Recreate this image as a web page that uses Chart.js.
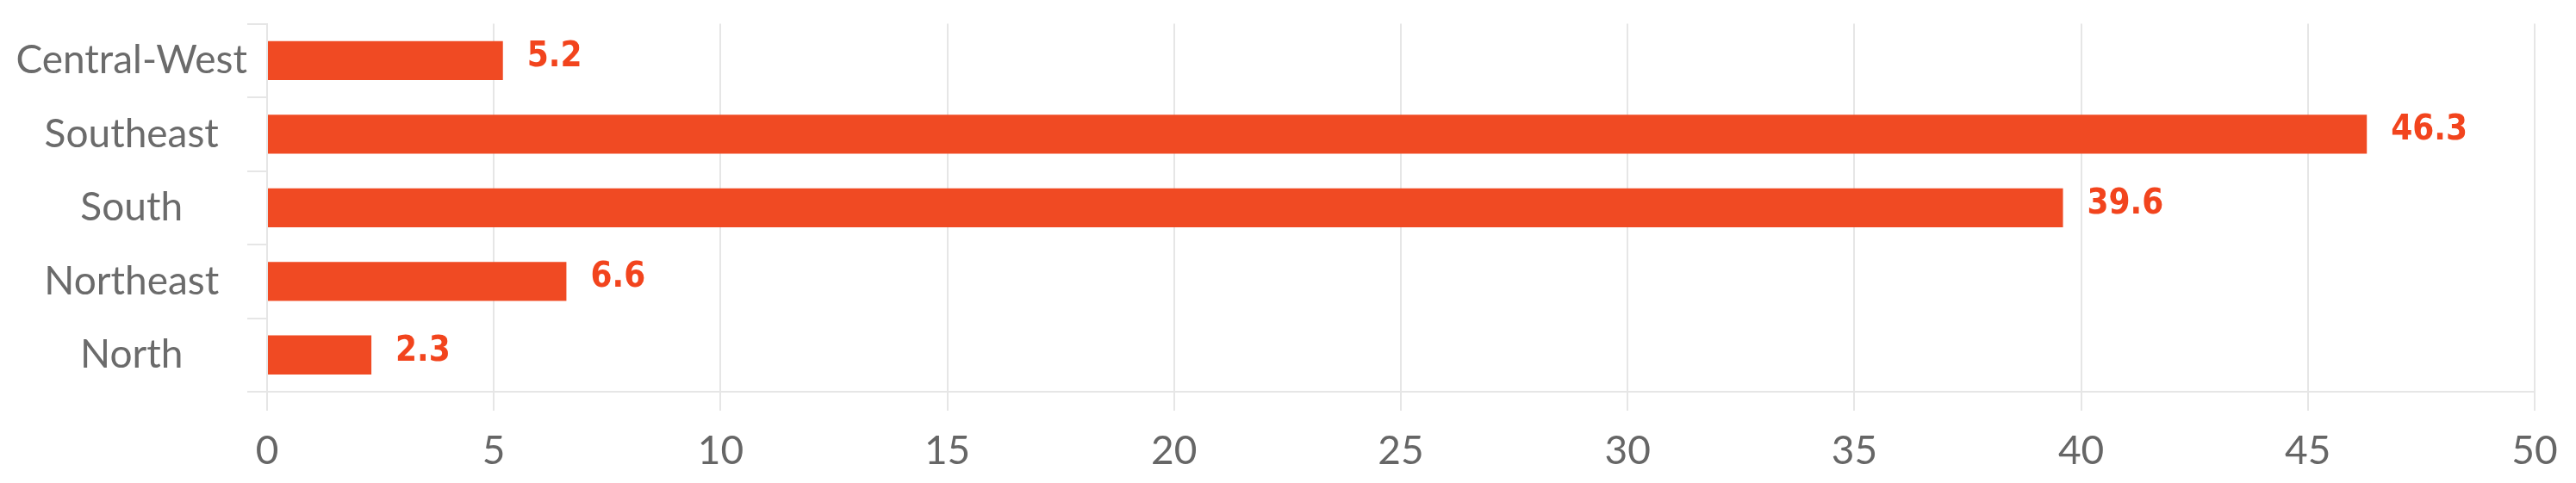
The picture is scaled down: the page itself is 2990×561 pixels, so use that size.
<!DOCTYPE html>
<html>
<head>
<meta charset="utf-8">
<script src="https://cdn.jsdelivr.net/npm/chart.js@4/dist/chart.umd.min.js"></script>
<style>
  html, body { margin: 0; padding: 0; background: #fff; }
  #wrap { width: 2990px; height: 561px; }
</style>
</head>
<body>
<div id="wrap"><canvas id="regionChart" width="2990" height="561"></canvas></div>
<script>
// regions and share values (%)
const regions = ['Central-West', 'Southeast', 'South', 'Northeast', 'North'];
const shares = [5.2, 46.3, 39.6, 6.6, 2.3];
const xTicks = [0, 5, 10, 15, 20, 25, 30, 35, 40, 45, 50];

const barColor = '#F04A23';
const labelColor = '#F2441D';
const gridColor = '#e6e6e6';

// draw value labels next to each bar
const valueLabels = {
    id: 'valueLabels',
    afterDatasetsDraw(chart) {
        const ctx = chart.ctx;
        const meta = chart.getDatasetMeta(0);
        ctx.save();
        ctx.font = 'bold 40px "DejaVu Sans Condensed", "DejaVu Sans", sans-serif';
        ctx.fillStyle = labelColor;
        ctx.textBaseline = 'middle';
        ctx.textAlign = 'left';
        meta.data.forEach(function (bar, i) {
            ctx.fillText(shares[i].toFixed(1), bar.x + 28, bar.y - 4);
        });
        ctx.restore();
    }
};

const ctx = document.getElementById('regionChart').getContext('2d');
new Chart(ctx, {
    type: 'bar',
    data: {
        labels: regions,
        datasets: [{
            data: shares,
            backgroundColor: barColor,
            borderWidth: 0,
            categoryPercentage: 1.0,
            barPercentage: 0.53
        }]
    },
    options: {
        indexAxis: 'y',
        responsive: false,
        animation: false,
        layout: { padding: { top: 8, right: 48, bottom: 0, left: 0 } },
        plugins: {
            legend: { display: false },
            tooltip: { enabled: false }
        },
        scales: {
            x: {
                min: 0,
                max: 50,
                afterBuildTicks(axis) {
                    axis.ticks = xTicks.map(v => ({ value: v }));
                },
                afterFit(axis) { axis.height = 106; },
                grid: { color: gridColor, lineWidth: 2, tickLength: 22 },
                border: { color: gridColor, width: 2 },
                ticks: {
                    color: '#666',
                    padding: 20,
                    font: { family: 'Lato', size: 46 }
                }
            },
            y: {
                afterFit(axis) { axis.width = 310; },
                grid: { drawOnChartArea: false, color: gridColor, lineWidth: 2, tickLength: 23, offset: true },
                border: { color: gridColor, width: 2 },
                ticks: {
                    color: '#6b6b6b',
                    padding: 0,
                    crossAlign: 'center',
                    font: { family: 'Lato', size: 46 }
                }
            }
        }
    },
    plugins: [valueLabels]
});
</script>
</body>
</html>
